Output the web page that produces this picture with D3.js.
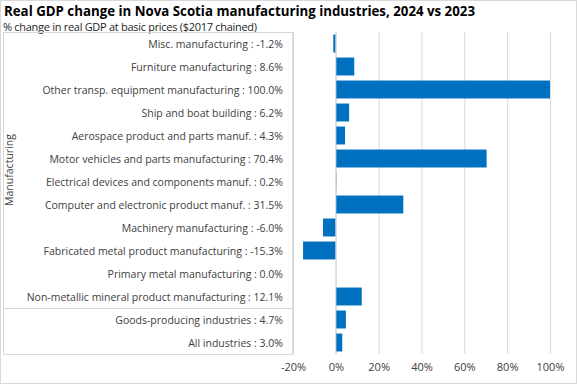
<!DOCTYPE html>
<html>
<head>
<meta charset="utf-8">
<script src="https://cdn.jsdelivr.net/npm/d3@7"></script>
<style>
  body { margin: 0; background: #fff; }
  svg text { font-family: "Open Sans", "Noto Sans", sans-serif; }
</style>
</head>
<body>
<div id="chart"></div>
<script>
'use strict'

// data
const categories = [
    'Misc. manufacturing',
    'Furniture manufacturing',
    'Other transp. equipment manufacturing',
    'Ship and boat building',
    'Aerospace product and parts manuf.',
    'Motor vehicles and parts manufacturing',
    'Electrical devices and components manuf.',
    'Computer and electronic product manuf.',
    'Machinery manufacturing',
    'Fabricated metal product manufacturing',
    'Primary metal manufacturing',
    'Non-metallic mineral product manufacturing',
    'Goods-producing industries',
    'All industries'
]
const values = [-1.2, 8.6, 100.0, 6.2, 4.3, 70.4, 0.2, 31.5, -6.0, -15.3, 0.0, 12.1, 4.7, 3.0]
const groups = ['Manufacturing', 'Manufacturing', 'Manufacturing', 'Manufacturing', 'Manufacturing',
    'Manufacturing', 'Manufacturing', 'Manufacturing', 'Manufacturing', 'Manufacturing',
    'Manufacturing', 'Manufacturing', '', '']
const xTicks = [-20, 0, 20, 40, 60, 80, 100]

const svgWidth = 577
const svgHeight = 384
const plot = { left: 293, right: 550, top: 32, bottom: 354 }
const axisLeft = 3
const lineColor = '#d9d9d9'
const textColor = '#404040'

const svg = d3.select('#chart')
    .append('svg')
    .attr('width', svgWidth)
    .attr('height', svgHeight)

// chart border
svg.append('rect')
    .attr('x', 0.5).attr('y', 0.5)
    .attr('width', svgWidth - 1).attr('height', svgHeight - 1)
    .attr('fill', 'none')
    .attr('stroke', lineColor)

// titles
svg.append('text')
    .attr('x', 4).attr('y', 15.5)
    .text('Real GDP change  in Nova Scotia manufacturing industries,  2024 vs 2023')
    .attr('font-size', '14.5px')
    .attr('font-weight', 700)
    .attr('textLength', 471)
    .attr('lengthAdjust', 'spacingAndGlyphs')
    .attr('fill', '#000')

svg.append('text')
    .attr('x', 3).attr('y', 31)
    .text('% change in real GDP at basic prices ($2017 chained)')
    .attr('font-size', '11px')
    .attr('textLength', 254)
    .attr('fill', '#262626')

////////////////////////////////////
//////////// scales ////////////////
////////////////////////////////////
const x = d3.scaleLinear()
    .domain([-20, 100])
    .range([plot.left, plot.right])

const y = d3.scaleBand()
    .domain(categories)
    .range([plot.top, plot.bottom])
    .paddingInner(0.22)
    .paddingOuter(0.11)

// gridlines + tick labels
const xAxis = d3.axisBottom(x)
    .tickValues(xTicks)
    .tickFormat(d => d + '%')
    .tickSize(-(plot.bottom - plot.top))
    .tickPadding(9)

svg.append('g')
    .attr('class', 'x-axis')
    .attr('transform', `translate(0,${plot.bottom})`)
    .call(xAxis)

svg.selectAll('.x-axis .domain').remove()
svg.selectAll('.x-axis line')
    .attr('stroke', lineColor)
    .attr('stroke-width', 1)
svg.selectAll('.x-axis text')
    .attr('fill', textColor)
    .attr('font-size', '11px')

// bars
svg.selectAll('.bar')
    .data(values)
    .enter()
    .append('rect')
    .attr('class', 'bar')
    .attr('x', d => x(Math.min(0, d)))
    .attr('width', d => Math.abs(x(d) - x(0)))
    .attr('y', (d, i) => y(categories[i]))
    .attr('height', y.bandwidth())
    .attr('fill', '#0070c0')

// zero line
svg.append('line')
    .attr('x1', x(0)).attr('x2', x(0))
    .attr('y1', plot.top).attr('y2', plot.bottom)
    .attr('stroke', lineColor)

////////////////////////////////////
//////////// category axis /////////
////////////////////////////////////
const step = y.step()
const rowTop = i => plot.top + i * step

svg.selectAll('.cat-label')
    .data(categories)
    .enter()
    .append('text')
    .attr('class', 'cat-label')
    .attr('x', plot.left - 10)
    .attr('y', (d, i) => rowTop(i) + step / 2 + 4)
    .attr('text-anchor', 'end')
    .attr('font-size', '10.5px')
    .attr('fill', textColor)
    .text((d, i) => `${d} :  ${values[i].toFixed(1)}%`)

// axis lines
const groupEnd = groups.lastIndexOf('Manufacturing') + 1
const hLines = [plot.top, rowTop(groupEnd), plot.bottom]
svg.selectAll('.cat-h')
    .data(hLines)
    .enter()
    .append('line')
    .attr('x1', axisLeft).attr('x2', plot.left)
    .attr('y1', d => Math.round(d) + 0.5).attr('y2', d => Math.round(d) + 0.5)
    .attr('stroke', lineColor)

svg.append('line')
    .attr('x1', plot.left - 0.5).attr('x2', plot.left - 0.5)
    .attr('y1', plot.top).attr('y2', plot.bottom)
    .attr('stroke', lineColor)

svg.append('line')
    .attr('x1', axisLeft + 0.5).attr('x2', axisLeft + 0.5)
    .attr('y1', plot.top).attr('y2', plot.bottom)
    .attr('stroke', lineColor)

// group label
const gMid = (plot.top + rowTop(groupEnd)) / 2
svg.append('text')
    .attr('transform', `translate(13,${gMid}) rotate(-90)`)
    .attr('text-anchor', 'middle')
    .attr('font-size', '10.5px')
    .attr('fill', textColor)
    .text('Manufacturing')
</script>
</body>
</html>
